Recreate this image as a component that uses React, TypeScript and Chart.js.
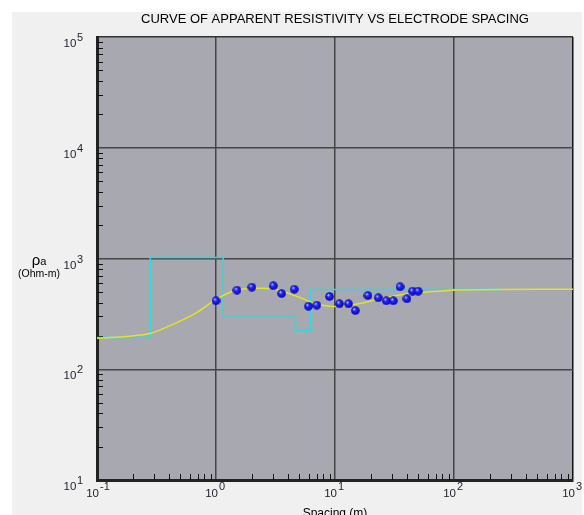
import React, { useEffect, useRef } from "react";
import { Chart, registerables } from "chart.js";

Chart.register(...registerables);

const titleText = "CURVE OF APPARENT RESISTIVITY VS ELECTRODE SPACING";
const xAxisTitle = "Spacing (m)";

const xTickValues = [0.1, 1, 10, 100, 1000];
const xTickExponents = ["-1", "0", "1", "2", "3"];
const yTickValues = [10, 100, 1000, 10000, 100000];
const yTickExponents = ["1", "2", "3", "4", "5"];
const tickBase = "10";

// layered model (step line)
const modelSpacing = [0.1, 0.28, 1.15, 4.65, 6.18, 250];
const modelRho = [194, 1020, 304, 224, 525, 525];

// calculated curve
const curveSpacing = [0.1, 0.19, 0.28, 0.43, 0.69, 1.0, 1.38, 1.8, 2.46, 3.21, 4.72, 6.95, 8.98, 11.5, 18.2, 26.8, 42.1, 58, 96, 230, 1000];
const curveRho = [190, 199, 210, 253, 325, 427, 507, 532, 539, 525, 457, 390, 371, 371, 403, 445, 483, 497, 518, 525, 527];

// field measurements
const fieldSpacing = [1.0, 1.5, 2.0, 3.03, 3.56, 4.54, 5.98, 7.03, 8.98, 10.9, 13.0, 14.8, 18.9, 23.1, 27.0, 30.9, 35.2, 40.2, 44.8, 50.0];
const fieldRho = [415, 518, 551, 567, 483, 528, 371, 379, 454, 390, 390, 339, 463, 442, 415, 415, 555, 433, 507, 507];

const FONT = "'Liberation Sans', Arial, sans-serif";

function makeSphere(): HTMLCanvasElement {
  const c = document.createElement("canvas");
  c.width = 9;
  c.height = 9;
  const g = c.getContext("2d")!;
  const grad = g.createRadialGradient(3.2, 3.0, 0.3, 4.5, 4.5, 4.5);
  grad.addColorStop(0, "#c8ccff");
  grad.addColorStop(0.3, "#2a2aff");
  grad.addColorStop(1, "#0000a8");
  g.fillStyle = grad;
  g.beginPath();
  g.arc(4.5, 4.5, 4.3, 0, Math.PI * 2);
  g.fill();
  return c;
}

const bgPlugin = {
  id: "bgPlugin",
  beforeDraw(chart: any) {
    const { ctx, chartArea } = chart;
    ctx.save();
    ctx.fillStyle = "#ffffff";
    ctx.fillRect(0, 0, chart.width, chart.height);
    ctx.fillStyle = "#f0f0f0";
    ctx.fillRect(12, 12, 570, chart.height - 12);
    ctx.fillStyle = "#a8a8b0";
    ctx.fillRect(chartArea.left, chartArea.top, chartArea.right - chartArea.left, chartArea.bottom - chartArea.top);
    ctx.restore();
  },
  beforeDatasetsDraw(chart: any) {
    const { ctx, chartArea } = chart;
    const xs = chart.scales.x;
    const ys = chart.scales.y;
    ctx.save();
    ctx.strokeStyle = "#111";
    ctx.lineWidth = 1;
    for (let d = 0; d < 4; d++) {
      for (let k = 2; k <= 9; k++) {
        const py = Math.round(ys.getPixelForValue(yTickValues[d] * k)) + 0.5;
        ctx.beginPath();
        ctx.moveTo(chartArea.left, py);
        ctx.lineTo(chartArea.left + 6, py);
        ctx.stroke();
        const px = Math.round(xs.getPixelForValue(xTickValues[d] * k)) + 0.5;
        ctx.beginPath();
        ctx.moveTo(px, chartArea.bottom);
        ctx.lineTo(px, chartArea.bottom - 6);
        ctx.stroke();
      }
    }
    ctx.restore();
  },
  afterDraw(chart: any) {
    const { ctx, chartArea } = chart;
    const xs = chart.scales.x;
    const ys = chart.scales.y;
    ctx.save();
    ctx.fillStyle = "#1e1e2e";
    ctx.textBaseline = "alphabetic";
    // x labels
    xTickValues.forEach((v, i) => {
      const px = xs.getPixelForValue(v);
      ctx.font = `11.5px ${FONT}`;
      ctx.textAlign = "right";
      ctx.fillText(tickBase, px + 2, chartArea.bottom + 17);
      ctx.font = `11px ${FONT}`;
      ctx.textAlign = "left";
      ctx.fillText(xTickExponents[i], px + 3, chartArea.bottom + 10);
    });
    // y labels
    yTickValues.forEach((v, i) => {
      const py = ys.getPixelForValue(v);
      ctx.font = `11px ${FONT}`;
      ctx.textAlign = "right";
      const right = 83;
      ctx.fillText(yTickExponents[i], right, py + 4);
      const w = ctx.measureText(yTickExponents[i]).width;
      ctx.font = `11.5px ${FONT}`;
      ctx.fillText(tickBase, right - w - 0.5, py + 10);
    });
    ctx.restore();
  },
};

export default function App() {
  const ref = useRef<HTMLCanvasElement>(null);
  useEffect(() => {
    const sphere = makeSphere();
    const chart = new Chart(ref.current!, {
      type: "line",
      data: {
        datasets: [
          {
            label: "Field data",
            data: fieldSpacing.map((x, i) => ({ x, y: fieldRho[i] })),
            showLine: false,
            pointStyle: sphere as any,
            pointRadius: 5,
            order: 0,
          },
          {
            label: "Calculated",
            data: curveSpacing.map((x, i) => ({ x, y: curveRho[i] })),
            borderColor: "#e2e22a",
            borderWidth: 1.5,
            pointRadius: 0,
            tension: 0.25,
            order: 1,
          },
          {
            label: "Model",
            data: modelSpacing.map((x, i) => ({ x, y: modelRho[i] })),
            borderColor: "#22e0e0",
            borderWidth: 1.5,
            pointRadius: 0,
            stepped: true,
            order: 2,
          },
        ],
      },
      options: {
        animation: false,
        responsive: false,
        layout: { padding: { left: 0, right: 11, top: 0, bottom: 0 } },
        plugins: {
          legend: { display: false },
          tooltip: { enabled: false },
          title: {
            display: true,
            text: titleText,
            fullSize: false,
            color: "#000",
            font: { family: FONT, size: 13, weight: "normal" },
            padding: { top: 12, bottom: 9.4 },
          },
        },
        scales: {
          x: {
            type: "logarithmic",
            min: 0.1,
            max: 1000,
            afterBuildTicks: (s: any) => {
              s.ticks = xTickValues.map((v) => ({ value: v }));
            },
            afterFit: (s: any) => {
              s.height = 35;
            },
            ticks: { display: false, autoSkip: false },
            grid: {
              drawTicks: false,
              lineWidth: 1.5,
              color: (c: any) => (c.index === xTickValues.length - 1 ? "#111" : "#454545"),
            },
            border: { display: true, color: "#222", width: 3 },
            title: {
              display: true,
              text: xAxisTitle,
              color: "#000",
              font: { family: FONT, size: 12 },
              padding: { top: 0, bottom: -6 },
            },
          },
          y: {
            type: "logarithmic",
            min: 10,
            max: 100000,
            afterBuildTicks: (s: any) => {
              s.ticks = yTickValues.map((v) => ({ value: v }));
            },
            afterFit: (s: any) => {
              s.width = 97;
            },
            ticks: { display: false, autoSkip: false },
            grid: {
              drawTicks: false,
              lineWidth: 1.5,
              color: (c: any) => (c.index === yTickValues.length - 1 ? "#333" : "#454545"),
            },
            border: { display: true, color: "#222", width: 3 },
          },
        },
      },
      plugins: [bgPlugin],
    });
    return () => chart.destroy();
  }, []);

  return (
    <div style={{ position: "absolute", left: 0, top: 0, width: 584, height: 515, overflow: "hidden", background: "#fff" }}>
      <canvas ref={ref} width={584} height={515} style={{ display: "block", width: 584, height: 515 }} />
      <div
        style={{
          position: "absolute",
          left: 12,
          top: 254,
          width: 54,
          textAlign: "center",
          fontFamily: FONT,
          color: "#000",
          lineHeight: "12px",
        }}
      >
        <div>
          <span style={{ fontSize: 15 }}>ρ</span>
          <span style={{ fontSize: 11 }}>a</span>
        </div>
        <div style={{ fontSize: 10.5 }}>(Ohm-m)</div>
      </div>
    </div>
  );
}
